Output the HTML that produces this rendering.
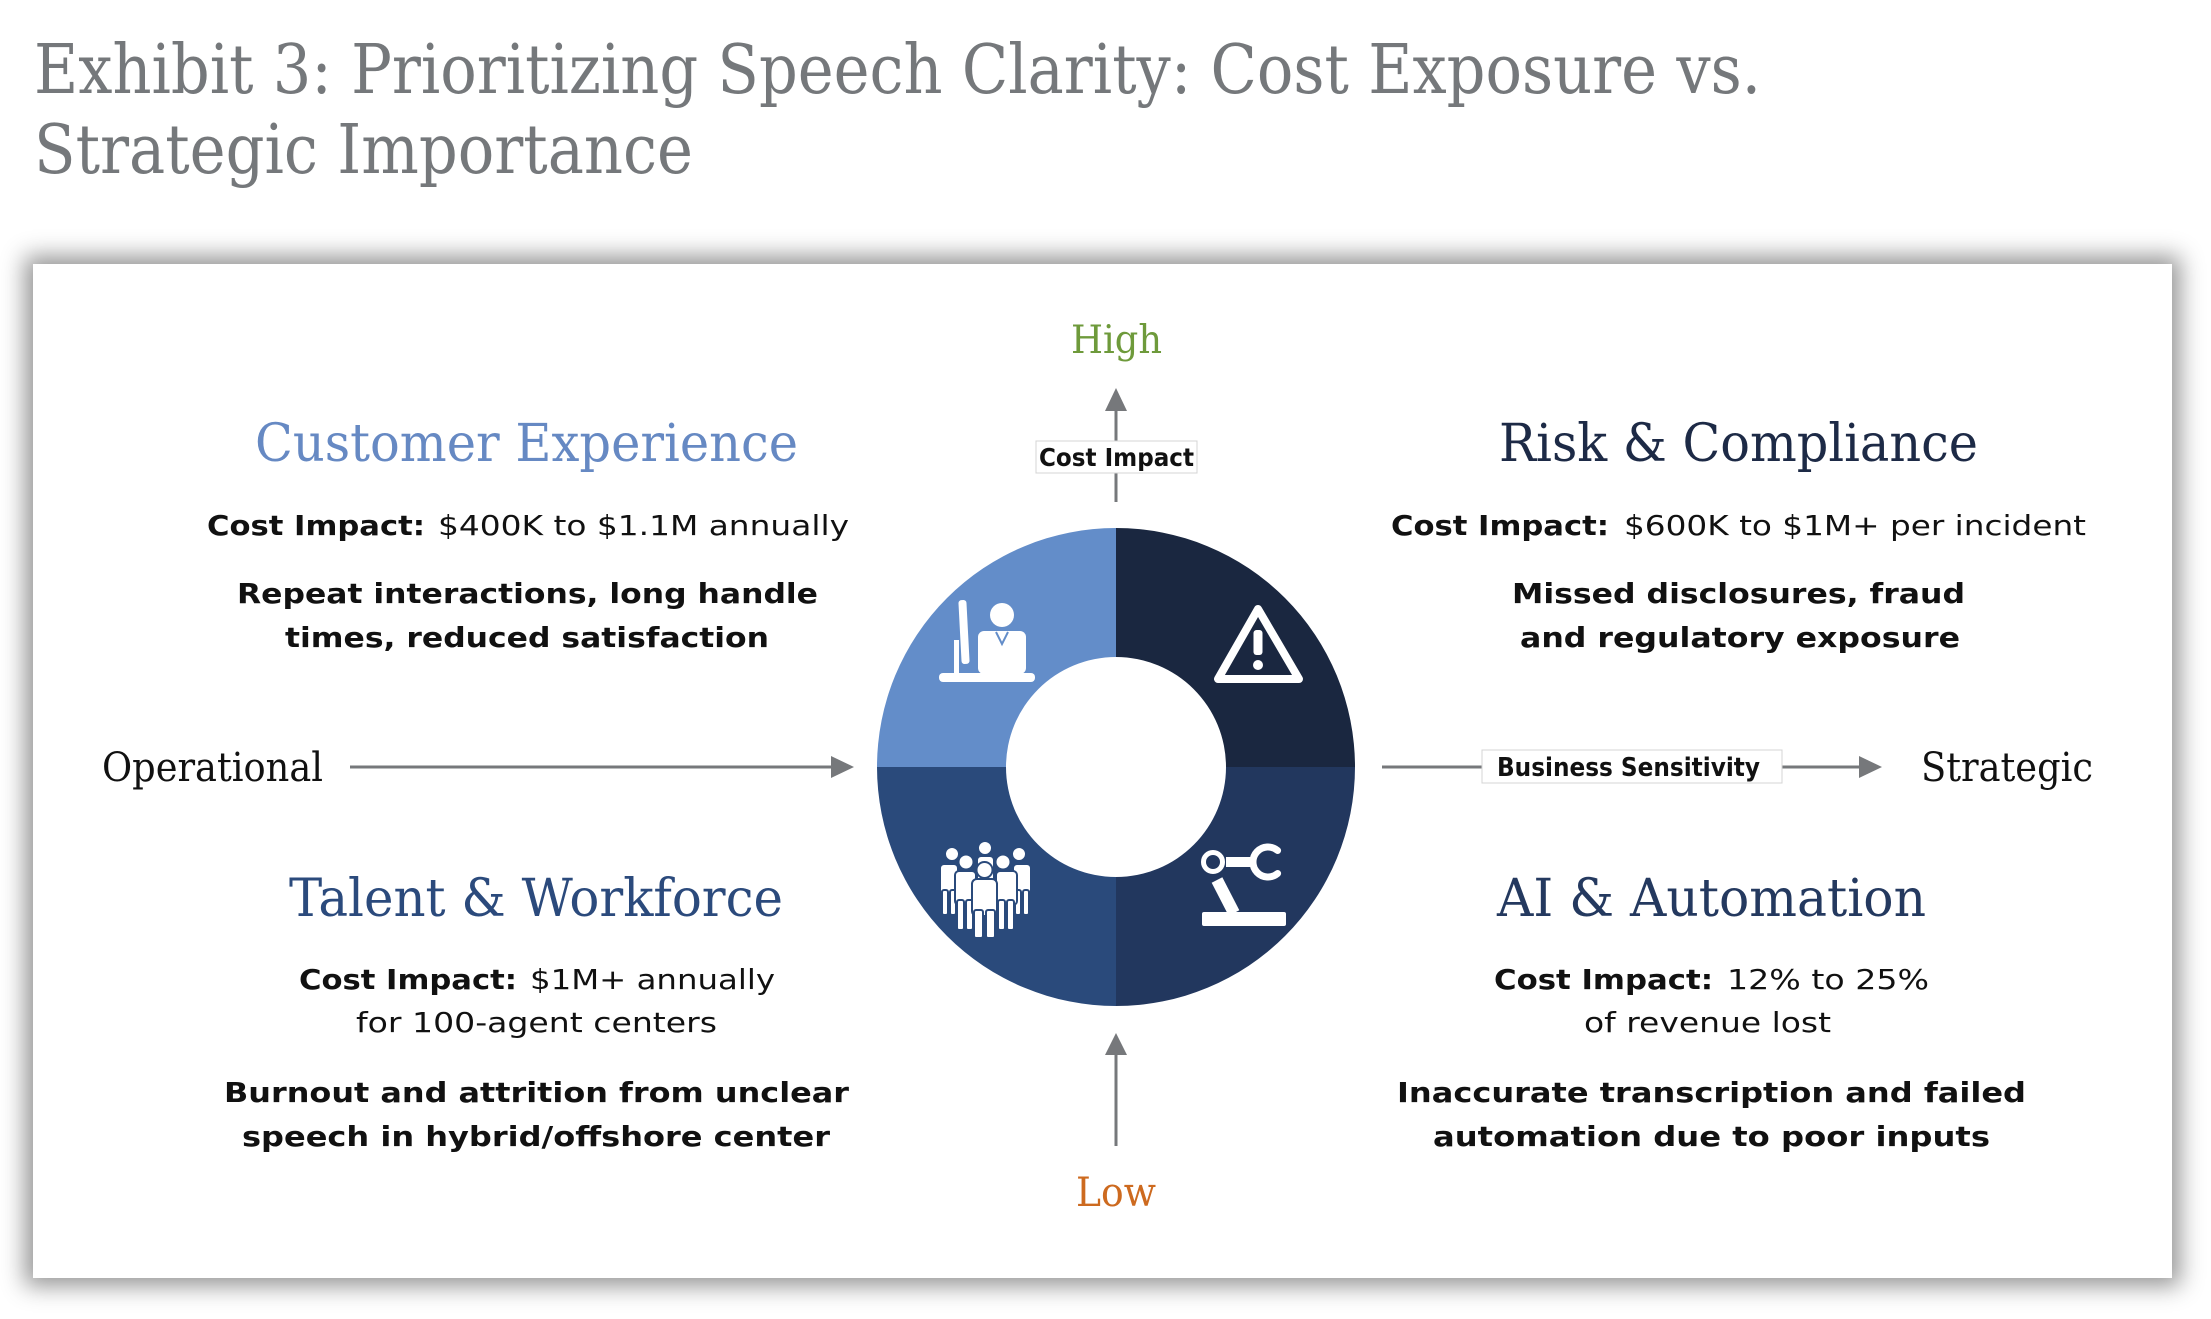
<!DOCTYPE html>
<html>
<head>
<meta charset="utf-8">
<style>
  html, body { margin:0; padding:0; background:#ffffff; }
  body { width:2211px; height:1319px; position:relative; overflow:hidden; }
  .card { position:absolute; left:33px; top:264px; width:2139px; height:1014px; background:#ffffff;
          box-shadow: 0 0 22px 8px rgba(0,0,0,0.42); }
  svg { position:absolute; left:0; top:0; }
  .slab { font-family:"DejaVu Serif","Liberation Serif",serif; }
  .sans { font-family:"DejaVu Sans","Liberation Sans",sans-serif; }
</style>
</head>
<body>
<div class="card"></div>
<svg width="2211" height="1319" viewBox="0 0 2211 1319" xmlns="http://www.w3.org/2000/svg">
  <!-- Title -->
  <text class="slab" x="34" y="93" font-size="68" fill="#75787b" textLength="1727" lengthAdjust="spacingAndGlyphs">Exhibit 3: Prioritizing Speech Clarity: Cost Exposure vs.</text>
  <text class="slab" x="34" y="173" font-size="68" fill="#75787b" textLength="659" lengthAdjust="spacingAndGlyphs">Strategic Importance</text>

  <!-- Donut -->
  <path d="M 877 767 A 239 239 0 0 1 1116 528 L 1116 657 A 110 110 0 0 0 1006 767 Z" fill="#638dc9"/>
  <path d="M 1116 528 A 239 239 0 0 1 1355 767 L 1226 767 A 110 110 0 0 0 1116 657 Z" fill="#1a2740"/>
  <path d="M 1355 767 A 239 239 0 0 1 1116 1006 L 1116 877 A 110 110 0 0 0 1226 767 Z" fill="#22375e"/>
  <path d="M 1116 1006 A 239 239 0 0 1 877 767 L 1006 767 A 110 110 0 0 0 1116 877 Z" fill="#2a4a7b"/>

  <!-- Desk icon (TL) -->
  <g fill="#ffffff">
    <rect x="939" y="673" width="96" height="9" rx="4"/>
    <rect x="960" y="600" width="8" height="64" rx="3" transform="rotate(-3 964 632)"/>
    <rect x="954" y="640" width="5" height="34"/>
    <circle cx="1002" cy="615" r="12"/>
    <rect x="978" y="631" width="48" height="43" rx="6"/>
  </g>
  <polyline points="996,632 1002,644 1008,632" fill="none" stroke="#638dc9" stroke-width="2"/>

  <!-- Warning icon (TR) -->
  <polygon points="1258,609 1218,679 1299,679" fill="none" stroke="#ffffff" stroke-width="8" stroke-linejoin="round"/>
  <rect x="1253.5" y="630" width="9" height="25" rx="3" fill="#ffffff"/>
  <circle cx="1258" cy="665" r="5" fill="#ffffff"/>

  <!-- Robot arm (BR) -->
  <g fill="#ffffff">
    <rect x="1202" y="912" width="84" height="14" rx="2"/>
    <rect x="1226" y="857" width="26" height="10"/>
  </g>
  <line x1="1217" y1="880" x2="1234" y2="913" stroke="#ffffff" stroke-width="12"/>
  <circle cx="1213" cy="862" r="9.5" fill="none" stroke="#ffffff" stroke-width="5"/>
  <path d="M 1277.6 850.5 A 15 15 0 1 0 1277.6 873.5" fill="none" stroke="#ffffff" stroke-width="7" stroke-linecap="round"/>

  <!-- People (BL) -->
  <g fill="#ffffff" stroke="#2a4a7b" stroke-width="2">
    <rect x="977" y="856" width="17" height="26" rx="4"/>
    <circle cx="985" cy="848" r="7"/>
    <rect x="940" y="864" width="18" height="30" rx="4"/>
    <rect x="942" y="890" width="6" height="25" rx="2"/>
    <rect x="950" y="890" width="6" height="25" rx="2"/>
    <circle cx="952" cy="854" r="7"/>
    <rect x="1013" y="864" width="18" height="30" rx="4"/>
    <rect x="1015" y="890" width="6" height="25" rx="2"/>
    <rect x="1023" y="890" width="6" height="25" rx="2"/>
    <circle cx="1019" cy="854" r="7"/>
    <rect x="955" y="871" width="21" height="34" rx="4"/>
    <rect x="957" y="900" width="7" height="30" rx="2"/>
    <rect x="966" y="900" width="7" height="30" rx="2"/>
    <circle cx="966" cy="862" r="7.5"/>
    <rect x="996" y="871" width="21" height="34" rx="4"/>
    <rect x="998" y="900" width="7" height="30" rx="2"/>
    <rect x="1007" y="900" width="7" height="30" rx="2"/>
    <circle cx="1003" cy="862" r="7.5"/>
    <rect x="972" y="879" width="25" height="37" rx="5"/>
    <rect x="974" y="910" width="9" height="28" rx="2"/>
    <rect x="986" y="910" width="9" height="28" rx="2"/>
    <circle cx="984.5" cy="870" r="8"/>
  </g>

  <!-- Vertical axis -->
  <line x1="1116" y1="409" x2="1116" y2="502" stroke="#76787b" stroke-width="3"/>
  <polygon points="1116,388 1105,411 1127,411" fill="#76787b"/>
  <rect x="1036" y="441" width="161" height="32" fill="#ffffff" stroke="#d4d4d4" stroke-width="1"/>
  <text class="sans" x="1039" y="466" font-size="25" font-weight="bold" fill="#111" textLength="155" lengthAdjust="spacingAndGlyphs">Cost Impact</text>
  <text class="slab" x="1071" y="353" font-size="39" fill="#6e9a3b" textLength="91" lengthAdjust="spacingAndGlyphs">High</text>

  <line x1="1116" y1="1053" x2="1116" y2="1146" stroke="#76787b" stroke-width="3"/>
  <polygon points="1116,1033 1105,1055 1127,1055" fill="#76787b"/>
  <text class="slab" x="1076" y="1206" font-size="40" fill="#cd6a1f" textLength="80" lengthAdjust="spacingAndGlyphs">Low</text>

  <!-- Horizontal axis -->
  <text class="slab" x="102" y="781" font-size="40" fill="#111" textLength="221" lengthAdjust="spacingAndGlyphs">Operational</text>
  <line x1="350" y1="767" x2="834" y2="767" stroke="#76787b" stroke-width="3"/>
  <polygon points="854,767 831,756 831,778" fill="#76787b"/>

  <line x1="1382" y1="767" x2="1862" y2="767" stroke="#76787b" stroke-width="3"/>
  <rect x="1482" y="750" width="300" height="33" fill="#ffffff" stroke="#d4d4d4" stroke-width="1"/>
  <text class="sans" x="1497" y="776" font-size="26" font-weight="bold" fill="#111" textLength="263" lengthAdjust="spacingAndGlyphs">Business Sensitivity</text>
  <polygon points="1882,767 1859,756 1859,778" fill="#76787b"/>
  <text class="slab" x="1921" y="781" font-size="40" fill="#111" textLength="172" lengthAdjust="spacingAndGlyphs">Strategic</text>

  <!-- Customer Experience -->
  <text class="slab" x="255" y="461" font-size="52" fill="#6689c3" textLength="543" lengthAdjust="spacingAndGlyphs">Customer Experience</text>
  <text class="sans" x="207" y="535" font-size="28" font-weight="bold" fill="#111" textLength="218" lengthAdjust="spacingAndGlyphs">Cost Impact:</text>
  <text class="sans" x="438" y="535" font-size="28" fill="#111" textLength="411" lengthAdjust="spacingAndGlyphs">$400K to $1.1M annually</text>
  <text class="sans" x="237" y="603" font-size="28" font-weight="bold" fill="#111" textLength="581" lengthAdjust="spacingAndGlyphs">Repeat interactions, long handle</text>
  <text class="sans" x="285" y="647" font-size="28" font-weight="bold" fill="#111" textLength="484" lengthAdjust="spacingAndGlyphs">times, reduced satisfaction</text>

  <!-- Risk & Compliance -->
  <text class="slab" x="1499" y="461" font-size="52" fill="#1d2a46" textLength="479" lengthAdjust="spacingAndGlyphs">Risk &amp; Compliance</text>
  <text class="sans" x="1391" y="535" font-size="28" font-weight="bold" fill="#111" textLength="218" lengthAdjust="spacingAndGlyphs">Cost Impact:</text>
  <text class="sans" x="1624" y="535" font-size="28" fill="#111" textLength="462" lengthAdjust="spacingAndGlyphs">$600K to $1M+ per incident</text>
  <text class="sans" x="1512" y="603" font-size="28" font-weight="bold" fill="#111" textLength="453" lengthAdjust="spacingAndGlyphs">Missed disclosures, fraud</text>
  <text class="sans" x="1520" y="647" font-size="28" font-weight="bold" fill="#111" textLength="440" lengthAdjust="spacingAndGlyphs">and regulatory exposure</text>

  <!-- Talent & Workforce -->
  <text class="slab" x="289" y="916" font-size="52" fill="#2b4a7c" textLength="494" lengthAdjust="spacingAndGlyphs">Talent &amp; Workforce</text>
  <text class="sans" x="299" y="989" font-size="28" font-weight="bold" fill="#111" textLength="218" lengthAdjust="spacingAndGlyphs">Cost Impact:</text>
  <text class="sans" x="530" y="989" font-size="28" fill="#111" textLength="245" lengthAdjust="spacingAndGlyphs">$1M+ annually</text>
  <text class="sans" x="356" y="1032" font-size="28" fill="#111" textLength="361" lengthAdjust="spacingAndGlyphs">for 100-agent centers</text>
  <text class="sans" x="224" y="1102" font-size="28" font-weight="bold" fill="#111" textLength="625" lengthAdjust="spacingAndGlyphs">Burnout and attrition from unclear</text>
  <text class="sans" x="242" y="1146" font-size="28" font-weight="bold" fill="#111" textLength="588" lengthAdjust="spacingAndGlyphs">speech in hybrid/offshore center</text>

  <!-- AI & Automation -->
  <text class="slab" x="1497" y="916" font-size="52" fill="#24395f" textLength="429" lengthAdjust="spacingAndGlyphs">AI &amp; Automation</text>
  <text class="sans" x="1494" y="989" font-size="28" font-weight="bold" fill="#111" textLength="219" lengthAdjust="spacingAndGlyphs">Cost Impact:</text>
  <text class="sans" x="1727" y="989" font-size="28" fill="#111" textLength="202" lengthAdjust="spacingAndGlyphs">12% to 25%</text>
  <text class="sans" x="1584" y="1032" font-size="28" fill="#111" textLength="247" lengthAdjust="spacingAndGlyphs">of revenue lost</text>
  <text class="sans" x="1397" y="1102" font-size="28" font-weight="bold" fill="#111" textLength="629" lengthAdjust="spacingAndGlyphs">Inaccurate transcription and failed</text>
  <text class="sans" x="1433" y="1146" font-size="28" font-weight="bold" fill="#111" textLength="557" lengthAdjust="spacingAndGlyphs">automation due to poor inputs</text>
</svg>
</body>
</html>
